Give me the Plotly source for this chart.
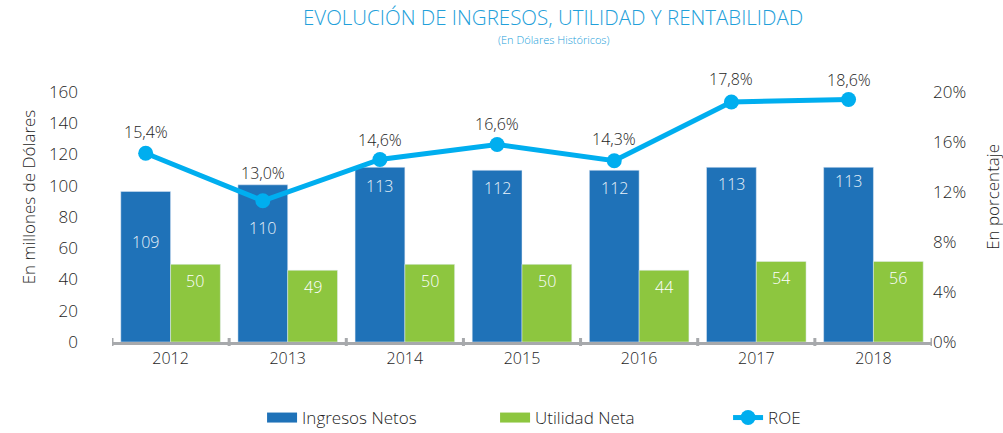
import plotly.graph_objects as go

# Datos (alturas de barra según la escala, etiquetas según el texto)
anios = [2012, 2013, 2014, 2015, 2016, 2017, 2018]
ingresos_netos = [96.4, 100.6, 111.8, 109.9, 109.9, 111.8, 111.8]
ingresos_texto = ["109", "110", "113", "112", "112", "113", "113"]
utilidad_neta = [49.7, 45.9, 49.7, 49.7, 45.9, 51.6, 51.6]
utilidad_texto = ["50", "49", "50", "50", "44", "54", "56"]
roe = [15.1, 11.3, 14.6, 15.8, 14.5, 19.2, 19.4]
roe_texto = ["15,4%", "13,0%", "14,6%", "16,6%", "14,3%", "17,8%", "18,6%"]
ticks_pct = [0, 4, 8, 12, 16, 20]

AZUL = "#1F72B8"
VERDE = "#8DC63F"
CELESTE = "#00AEEF"
GRIS = "#A7A9AC"
TEXTO = "#1E1E1E"
FUENTE = "Open Sans"
PESO = 300

BARGAP = 0.15
desp = (1 - BARGAP) / 4  # centro de cada barra respecto al año
bajada_azul = [51, 43, 19, 18, 18, 17, 14]  # px bajo el borde superior
subida_roe = [21, 28, 20, 21, 22, 23, 20]   # px sobre el marcador

fig = go.Figure()
fig.add_trace(go.Bar(x=anios, y=ingresos_netos, name="Ingresos Netos",
                     marker_color=AZUL, showlegend=False))
fig.add_trace(go.Bar(x=anios, y=utilidad_neta, name="Utilidad Neta",
                     marker_color=VERDE, showlegend=False))
fig.add_trace(go.Scatter(
    x=[a - desp for a in anios], y=roe, yaxis="y2", name="ROE",
    mode="lines+markers", line=dict(color=CELESTE, width=5),
    marker=dict(size=15, color=CELESTE), cliponaxis=False, showlegend=False,
))

# entradas de leyenda
fig.add_trace(go.Scatter(x=[None], y=[None], mode="lines", name="Ingresos Netos",
                         line=dict(color=AZUL, width=10)))
fig.add_trace(go.Scatter(x=[None], y=[None], mode="lines", name="Utilidad Neta",
                         line=dict(color=VERDE, width=10)))
fig.add_trace(go.Scatter(x=[None], y=[None], mode="lines+markers", name="ROE",
                         line=dict(color=CELESTE, width=5),
                         marker=dict(size=15, color=CELESTE)))

anotaciones = []
for a, v, t, b in zip(anios, ingresos_netos, ingresos_texto, bajada_azul):
    anotaciones.append(dict(x=a - desp, y=v, text=t, xref="x", yref="y",
                            showarrow=False, yshift=-b, yanchor="middle",
                            font=dict(size=16, color="#EAF2FA", family=FUENTE, weight=PESO)))
for a, v, t in zip(anios, utilidad_neta, utilidad_texto):
    anotaciones.append(dict(x=a + desp, y=v, text=t, xref="x", yref="y",
                            showarrow=False, yshift=-17, yanchor="middle",
                            font=dict(size=16, color="white", family=FUENTE, weight=PESO)))
for a, v, t, s in zip(anios, roe, roe_texto, subida_roe):
    anotaciones.append(dict(x=a - desp, y=v, text=t, xref="x", yref="y2",
                            showarrow=False, yshift=s, yanchor="middle",
                            font=dict(size=16, color=TEXTO, family=FUENTE, weight=PESO)))
anotaciones += [
    dict(text="En millones de Dólares", x=-0.102, y=0.58, xref="paper", yref="paper",
         showarrow=False, textangle=-90, xanchor="center", yanchor="middle",
         font=dict(size=17, color=TEXTO, family=FUENTE, weight=PESO)),
    dict(text="En porcentaje", x=1.073, y=0.58, xref="paper", yref="paper",
         showarrow=False, textangle=-90, xanchor="center", yanchor="middle",
         font=dict(size=17, color=TEXTO, family=FUENTE, weight=PESO)),
    dict(text="EVOLUCIÓN DE INGRESOS, UTILIDAD Y RENTABILIDAD", x=0.538, y=1.3,
         xref="paper", yref="paper", showarrow=False, xanchor="center", yanchor="middle",
         font=dict(size=20.5, color="#22A0DA", family=FUENTE, weight=PESO)),
    dict(text="(En Dólares Históricos)", x=0.538, y=1.212,
         xref="paper", yref="paper", showarrow=False, xanchor="center", yanchor="middle",
         font=dict(size=11, color="#22A0DA", family=FUENTE, weight=PESO)),
]

fig.update_layout(
    width=1003, height=433,
    margin=dict(l=112, r=71, t=92, b=91, autoexpand=False),
    paper_bgcolor="white", plot_bgcolor="white",
    font=dict(family=FUENTE, size=16, color=TEXTO, weight=PESO),
    barmode="group", bargap=BARGAP, bargroupgap=0,
    xaxis=dict(range=[2011.5, 2018.5], tickvals=anios, ticktext=[str(a) for a in anios],
               showline=True, linecolor=GRIS, linewidth=3, showgrid=False,
               ticks="", zeroline=False, automargin=False,
               tickfont=dict(size=16, color=TEXTO, weight=PESO)),
    yaxis=dict(range=[0, 160], tickvals=list(range(0, 161, 20)), showgrid=False,
               zeroline=False, showline=False, ticklabelstandoff=33, automargin=False,
               tickfont=dict(size=17, color=TEXTO, weight=PESO)),
    yaxis2=dict(range=[0, 20], tickvals=ticks_pct, ticktext=[f"{t}%" for t in ticks_pct],
                overlaying="y", side="right", showgrid=False, zeroline=False,
                showline=False, automargin=False,
                tickfont=dict(size=17, color=TEXTO, weight=PESO)),
    legend=dict(orientation="h", x=0.183, y=-0.304, xanchor="left", yanchor="middle",
                entrywidth=188, font=dict(size=17, color=TEXTO, weight=PESO),
                traceorder="normal"),
    annotations=anotaciones,
    shapes=[dict(type="line", xref="x", yref="paper", x0=a - 0.5, x1=a - 0.5,
                 y0=-0.016, y1=0.016, line=dict(color=GRIS, width=3))
            for a in anios + [2019]],
)

fig.write_html("out.html", config={"displayModeBar": False},
               post_script="document.body.style.margin='0';")
